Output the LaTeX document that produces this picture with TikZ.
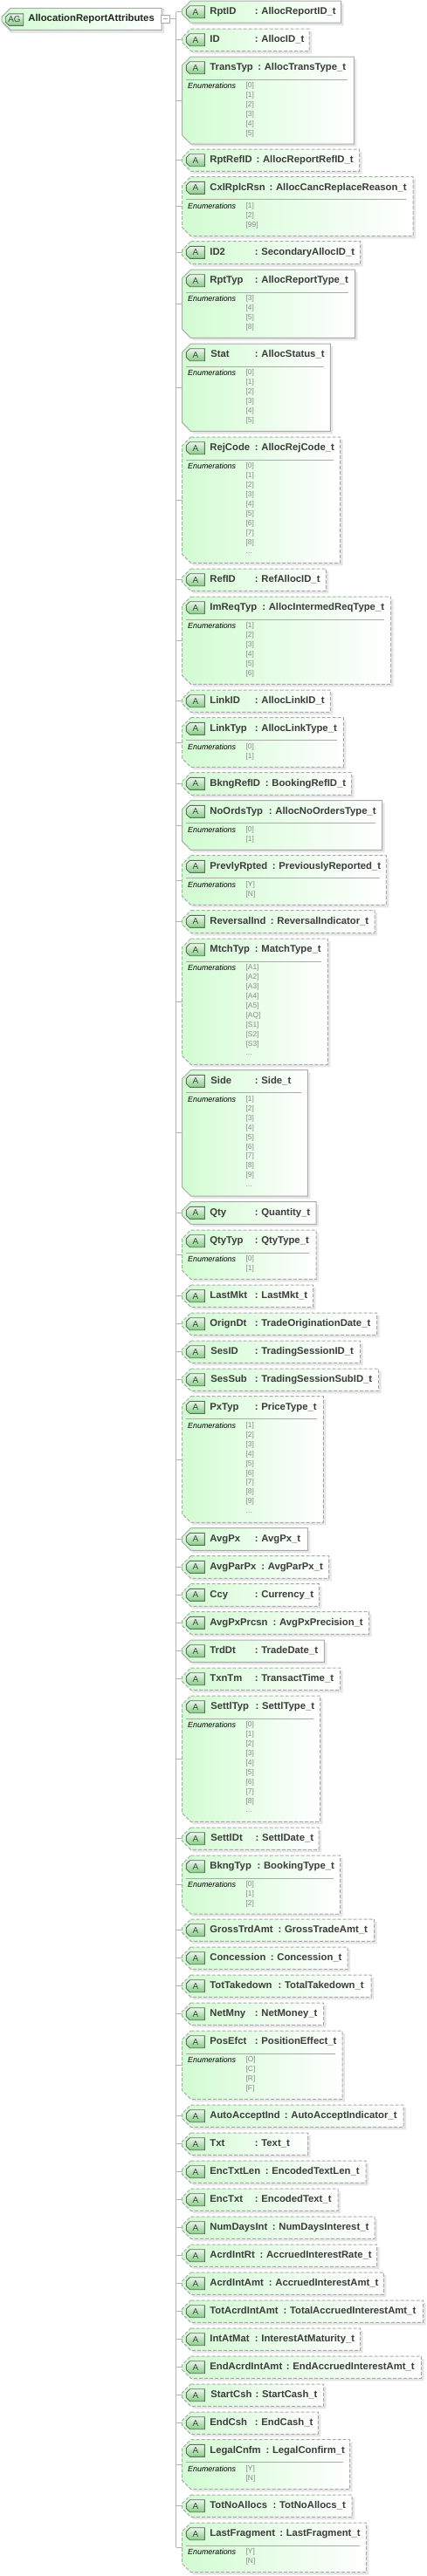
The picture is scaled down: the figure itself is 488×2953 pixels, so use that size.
\documentclass[tikz,border=0pt]{standalone}
\usepackage{fontspec}
\setmainfont{Liberation Sans}
\usetikzlibrary{shadows}
\definecolor{edgegrey}{HTML}{ABABAB}
\definecolor{hdrtext}{HTML}{3C3C3C}
\definecolor{enumtext}{HTML}{8A8A8A}
\definecolor{boxgreen}{HTML}{D2FCD2}
\definecolor{boxmid}{HTML}{EEFFEE}
\definecolor{badgetop}{HTML}{EEF6EE}
\definecolor{badgebot}{HTML}{86CC86}
\definecolor{badgeedge}{HTML}{5F6F5F}
\definecolor{badgetext}{HTML}{2F4F2F}
\definecolor{conncol}{HTML}{B4B4B4}
\definecolor{shadowcol}{HTML}{E6E6E6}
\newcommand{\moredots}{...}
\makeatletter
\pgfkeys{/pgf/hexchamfer/.initial=10pt}
\pgfdeclareshape{hexbox}{
  \inheritsavedanchors[from=rectangle]
  \inheritanchorborder[from=rectangle]
  \inheritanchor[from=rectangle]{center}
  \inheritanchor[from=rectangle]{north}
  \inheritanchor[from=rectangle]{south}
  \inheritanchor[from=rectangle]{east}
  \inheritanchor[from=rectangle]{west}
  \backgroundpath{
    \southwest \edef\hxl{\the\pgf@x}\edef\hyb{\the\pgf@y}
    \northeast \edef\hxr{\the\pgf@x}\edef\hyt{\the\pgf@y}
    \pgfmathsetlength\pgf@xc{\pgfkeysvalueof{/pgf/hexchamfer}}
    \edef\hcc{\the\pgf@xc}
    \pgf@x=\hxl\relax \advance\pgf@x by \hcc\relax \edef\hxc{\the\pgf@x}
    \pgf@y=\hyt\relax \advance\pgf@y by -\hcc\relax \edef\hytc{\the\pgf@y}
    \pgf@y=\hyb\relax \advance\pgf@y by \hcc\relax \edef\hybc{\the\pgf@y}
    \pgfpathmoveto{\pgfqpoint{\hxc}{\hyt}}
    \pgfpathlineto{\pgfqpoint{\hxr}{\hyt}}
    \pgfpathlineto{\pgfqpoint{\hxr}{\hyb}}
    \pgfpathlineto{\pgfqpoint{\hxc}{\hyb}}
    \pgfpathlineto{\pgfqpoint{\hxl}{\hybc}}
    \pgfpathlineto{\pgfqpoint{\hxl}{\hytc}}
    \pgfpathclose
  }
}
\makeatother
\tikzset{
  boxbase/.style={shape=hexbox, /pgf/hexchamfer=10pt,
    inner sep=0pt, outer sep=0pt, line width=1pt,
    left color=boxgreen, middle color=boxmid, right color=white,
    drop shadow={shadow xshift=3pt,shadow yshift=-3pt,fill=shadowcol,opacity=1}},
  reqbox/.style={boxbase,draw=edgegrey},
  optbox/.style={boxbase,draw=edgegrey,dash pattern=on 4pt off 2pt},
  badge/.style={shape=hexbox, /pgf/hexchamfer=4pt,
    inner sep=0pt, outer sep=0pt, minimum width=21pt, minimum height=14pt, line width=.9pt,
    draw=badgeedge, top color=badgetop, bottom color=badgebot,
    text=badgetext, font=\fontsize{10}{10}\selectfont},
  hdr/.style={anchor=base west, inner sep=0pt, text=hdrtext, font=\fontsize{11.3}{12}\bfseries\selectfont},
  enumlabel/.style={anchor=base west, inner sep=0pt, text=black, font=\fontsize{8.9}{10}\itshape\selectfont},
  enumval/.style={anchor=base west, inner sep=0pt, text=enumtext, font=\fontsize{8.4}{10}\selectfont},
  conn/.style={draw=conncol, line width=1pt},
  sepline/.style={draw=edgegrey, line width=.8pt},
}
% #1 id, #2 top, #3 bottom, #4 right, #5 style, #6 name, #7 colon x, #8 type
\newcommand{\attrbox}[8]{%
  \pgfmathsetmacro{\bxc}{(208.5+#4)/2}\pgfmathsetmacro{\byc}{(#2+#3)/2}%
  \pgfmathsetmacro{\bw}{#4-208.5}\pgfmathsetmacro{\bh}{#3-#2}%
  \node[#5, minimum width=\bw pt, minimum height=\bh pt] (box#1) at (\bxc,\byc) {};
  \node[badge] (badge#1) at (223.9,#2+12.7) {A};
  \node[hdr] (name#1) at (240.2,#2+15.7) {#6};
  \node[hdr] (type#1) at (#7-1.6,#2+15.7) {:\hspace{3.7pt}#8};
  \draw[conn] (trunk |- box#1.west) -- (box#1.west);
}
% #9 enumerations
\newcommand{\enumbox}[9]{%
  \attrbox{#1}{#2}{#3}{#4}{#5}{#6}{#7}{#8}%
  \draw[sepline] (213.3,#2+26) coordinate (sl#1) -- (#4-7.6,#2+26);
  \node[enumlabel] (enum#1) at (215,#2+36.5) {Enumerations};
  \foreach \val [count=\idx from 0] in {#9} {
    \node[enumval] (val#1-\idx) at (281.4,#2+35.8+10.9*\idx) {\val};
  }
}
\begin{document}
\begin{tikzpicture}[x=1pt,y=-1pt]
\useasboundingbox (0,0) rectangle (488,2953);
\coordinate (trunk) at (201.5,14);
\node[shape=hexbox,/pgf/hexchamfer=10pt,draw=black!22,fill=white,line width=1pt,inner sep=0pt,minimum width=183pt,minimum height=25pt] (rootback) at (95.5,23.8) {};
\node[boxbase,draw=edgegrey,minimum width=183pt,minimum height=25pt] (root) at (93.5,21.8) {};
\node[badge,minimum width=20.5pt,minimum height=13.5pt,font=\fontsize{9.8}{10}\selectfont] (rootbadge) at (16.5,22.6) {AG};
\node[anchor=base west,inner sep=0pt,text=black!85,font=\fontsize{11.3}{12}\bfseries\selectfont] (rootname) at (32.2,24.3) {AllocationReportAttributes};
\node[draw=edgegrey,fill=white,inner sep=0pt,minimum width=9.5pt,minimum height=9.5pt,line width=.8pt] (minus) at (189.6,21.9) {\textcolor{edgegrey}{\rule[1.8pt]{5pt}{.8pt}}};
\draw[conn] (minus.east) -- (minus.east -| trunk);

\attrbox{1}{1}{26}{390.7}{reqbox}{RptID}{293.3}{AllocReportID\_t}
\attrbox{2}{33}{58.5}{354}{optbox}{ID}{293.3}{AllocID\_t}
\enumbox{3}{65}{165}{405.3}{reqbox}{TransTyp}{296.7}{AllocTransType\_t}{[0],[1],[2],[3],[4],[5]}
\attrbox{4}{171}{196.3}{411.7}{optbox}{RptRefID}{295}{AllocReportRefID\_t}
\enumbox{5}{202.7}{270.7}{473}{optbox}{CxlRplcRsn}{310}{AllocCancReplaceReason\_t}{[1],[2],[99]}
\attrbox{6}{276.7}{302.5}{412.7}{optbox}{ID2}{293.3}{SecondaryAllocID\_t}
\enumbox{7}{309}{387.3}{406.7}{reqbox}{RptTyp}{293.3}{AllocReportType\_t}{[3],[4],[5],[8]}
\enumbox{8}{394}{494.3}{378.3}{reqbox}{\kern1pt Stat}{293.3}{AllocStatus\_t}{[0],[1],[2],[3],[4],[5]}
\enumbox{9}{501}{645.3}{389.7}{optbox}{RejCode}{293.3}{AllocRejCode\_t}{[0],[1],[2],[3],[4],[5],[6],[7],[8],\moredots}
\attrbox{10}{652}{677.3}{373.3}{optbox}{RefID}{293.3}{RefAllocID\_t}
\enumbox{11}{684}{784.3}{447.7}{optbox}{ImReqTyp}{301.7}{AllocIntermedReqType\_t}{[1],[2],[3],[4],[5],[6]}
\attrbox{12}{791}{816.3}{378.3}{optbox}{LinkID}{293.3}{AllocLinkID\_t}
\enumbox{13}{822.7}{879.3}{393.3}{optbox}{LinkTyp}{293.3}{AllocLinkType\_t}{[0],[1]}
\attrbox{14}{885.7}{911.3}{402.7}{optbox}{BkngRefID}{305.3}{BookingRefID\_t}
\enumbox{15}{917.7}{974.3}{437.7}{reqbox}{NoOrdsTyp}{309.3}{AllocNoOrdersType\_t}{[0],[1]}
\enumbox{16}{980.7}{1037.3}{442.3}{optbox}{PrevlyRpted}{313.3}{PreviouslyReported\_t}{[Y],[N]}
\attrbox{17}{1043.7}{1069.5}{429}{optbox}{ReversalInd}{311.3}{ReversalIndicator\_t}
\enumbox{18}{1076}{1220.3}{375.3}{optbox}{MtchTyp}{293.3}{MatchType\_t}{[A1],[A2],[A3],[A4],[A5],[AQ],[S1],[S2],[S3],\moredots}
\enumbox{19}{1226.7}{1371}{352.3}{reqbox}{\kern1pt Side}{293.3}{Side\_t}{[1],[2],[3],[4],[5],[6],[7],[8],[9],\moredots}
\attrbox{20}{1377.7}{1403.3}{362}{reqbox}{Qty}{293.3}{Quantity\_t}
\enumbox{21}{1410}{1466.3}{362}{optbox}{QtyTyp}{293.3}{QtyType\_t}{[0],[1]}
\attrbox{22}{1473}{1498.3}{358.7}{optbox}{LastMkt}{293.3}{LastMkt\_t}
\attrbox{23}{1505}{1530.3}{431.7}{optbox}{OrignDt}{293.3}{TradeOriginationDate\_t}
\attrbox{24}{1537}{1562.3}{412.7}{optbox}{\kern1pt SesID}{293.3}{TradingSessionID\_t}
\attrbox{25}{1569}{1594.3}{433.7}{optbox}{\kern1pt SesSub}{293.3}{TradingSessionSubID\_t}
\enumbox{26}{1600.7}{1745.3}{370.3}{optbox}{PxTyp}{293.3}{PriceType\_t}{[1],[2],[3],[4],[5],[6],[7],[8],[9],\moredots}
\attrbox{27}{1751.7}{1777.3}{352.3}{reqbox}{AvgPx}{293.3}{AvgPx\_t}
\attrbox{28}{1783.7}{1809.3}{376.7}{optbox}{AvgParPx}{300.7}{AvgParPx\_t}
\attrbox{29}{1815.7}{1841.3}{365.3}{optbox}{Ccy}{293.3}{Currency\_t}
\attrbox{30}{1847.7}{1873.3}{422.7}{optbox}{AvgPxPrcsn}{314}{AvgPxPrecision\_t}
\attrbox{31}{1880}{1905.3}{371.3}{reqbox}{TrdDt}{293.3}{TradeDate\_t}
\attrbox{32}{1912}{1937.3}{389.7}{optbox}{TxnTm}{293.3}{TransactTime\_t}
\enumbox{33}{1944}{2088.3}{366.7}{optbox}{\kern1pt SettlTyp}{294}{SettlType\_t}{[0],[1],[2],[3],[4],[5],[6],[7],[8],\moredots}
\attrbox{34}{2095}{2120.3}{365}{optbox}{\kern1pt SettlDt}{294}{SettlDate\_t}
\enumbox{35}{2127}{2194}{389.7}{optbox}{BkngTyp}{296}{BookingType\_t}{[0],[1],[2]}
\attrbox{36}{2200}{2225.3}{428.7}{optbox}{GrossTrdAmt}{320}{GrossTradeAmt\_t}
\attrbox{37}{2232}{2257.3}{398}{optbox}{Concession}{311.3}{Concession\_t}
\attrbox{38}{2264}{2289.3}{425}{optbox}{TotTakedown}{320}{TotalTakedown\_t}
\attrbox{39}{2296}{2321.3}{370.7}{optbox}{NetMny}{293.3}{NetMoney\_t}
\enumbox{40}{2328}{2406.3}{392}{optbox}{PosEfct}{293.3}{PositionEffect\_t}{[O],[C],[R],[F]}
\attrbox{41}{2413}{2438.3}{462}{optbox}{AutoAcceptInd}{327.3}{AutoAcceptIndicator\_t}
\attrbox{42}{2445}{2470.3}{352.7}{optbox}{Txt}{293.3}{Text\_t}
\attrbox{43}{2477}{2502.3}{419}{optbox}{EncTxtLen}{305.3}{EncodedTextLen\_t}
\attrbox{44}{2509}{2534.3}{387}{optbox}{EncTxt}{293.3}{EncodedText\_t}
\attrbox{45}{2541}{2566.3}{429}{optbox}{NumDaysInt}{313.3}{NumDaysInterest\_t}
\attrbox{46}{2573}{2598.3}{431.7}{optbox}{AcrdIntRt}{299}{AccruedInterestRate\_t}
\attrbox{47}{2605}{2630.3}{439.3}{optbox}{AcrdIntAmt}{309.3}{AccruedInterestAmt\_t}
\attrbox{48}{2637}{2662.3}{484.7}{optbox}{TotAcrdIntAmt}{326}{TotalAccruedInterestAmt\_t}
\attrbox{49}{2669}{2694.3}{412.7}{optbox}{IntAtMat}{293.3}{InterestAtMaturity\_t}
\attrbox{50}{2701}{2726.3}{482.7}{optbox}{EndAcrdIntAmt}{329.3}{EndAccruedInterestAmt\_t}
\attrbox{51}{2733}{2758.3}{370.7}{optbox}{\kern1pt StartCsh}{294}{StartCash\_t}
\attrbox{52}{2765}{2790.3}{364.3}{optbox}{EndCsh}{293.3}{EndCash\_t}
\enumbox{53}{2796.7}{2853.3}{400.7}{optbox}{LegalCnfm}{306}{LegalConfirm\_t}{[Y],[N]}
\attrbox{54}{2860}{2885.3}{403}{optbox}{TotNoAllocs}{314}{TotNoAllocs\_t}
\enumbox{55}{2892}{2948.7}{419.3}{optbox}{LastFragment}{321.7}{LastFragment\_t}{[Y],[N]}

\draw[conn] (trunk |- box1.west) -- (trunk |- box55.west);
\end{tikzpicture}
\end{document}
